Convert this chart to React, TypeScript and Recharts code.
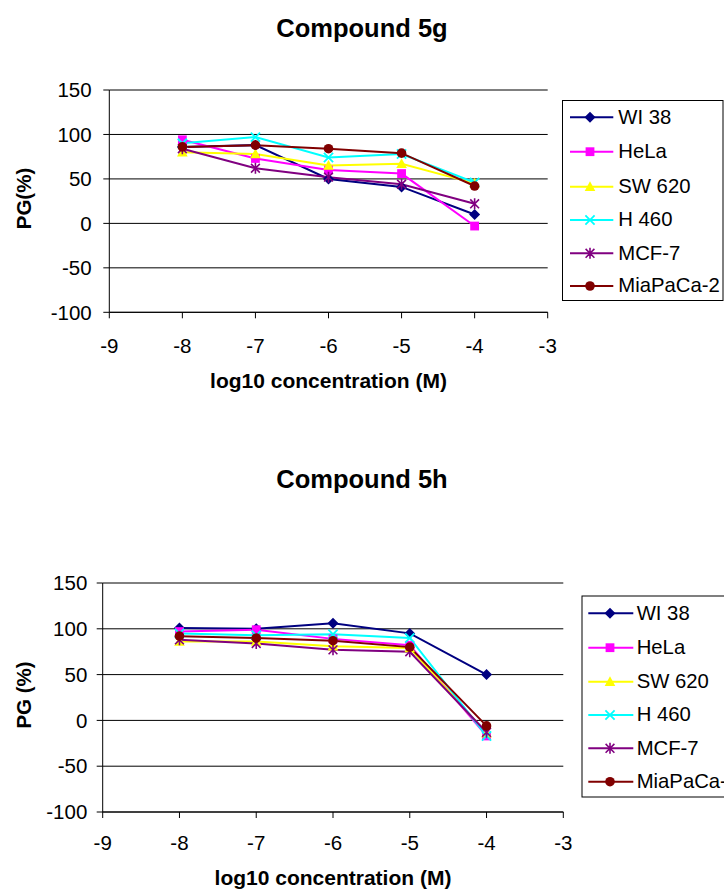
import React from 'react';
import { LineChart, Line, XAxis, YAxis, CartesianGrid } from 'recharts';

const FONT = '"Liberation Sans", Arial, Helvetica, sans-serif';

// ---------- data ----------
const CONCENTRATIONS = [-8, -7, -6, -5, -4];
const X_TICKS = [-9, -8, -7, -6, -5, -4, -3];
const Y_TICKS = [-100, -50, 0, 50, 100, 150];
const CELL_LINES = ['WI 38', 'HeLa', 'SW 620', 'H 460', 'MCF-7', 'MiaPaCa-2'];
const COLORS = ['#000080', '#FF00FF', '#FFFF00', '#00FFFF', '#800080', '#800000'];
const MARKERS = ['diamond', 'square', 'triangle', 'cross', 'star', 'circle'];

// Compound 5g
const PG_5G_WI38 = [86, 88, 50, 41, 10];
const PG_5G_HELA = [94, 73, 60, 56, -3];
const PG_5G_SW620 = [80, 78, 65, 67, 45];
const PG_5G_H460 = [90, 97, 74, 78, 46];
const PG_5G_MCF7 = [84, 62, 52, 44, 22];
const PG_5G_MIAPACA2 = [86, 88, 84, 79, 42];

// Compound 5h
const PG_5H_WI38 = [101, 100, 106, 95, 50];
const PG_5H_HELA = [97, 99, 89, 82, -17];
const PG_5H_SW620 = [86, 86, 81, 79, -14];
const PG_5H_H460 = [95, 93, 94, 90, -17];
const PG_5H_MCF7 = [88, 84, 77, 75, -13];
const PG_5H_MIAPACA2 = [92, 90, 87, 80, -6];

const SERIES_5G = [PG_5G_WI38, PG_5G_HELA, PG_5G_SW620, PG_5G_H460, PG_5G_MCF7, PG_5G_MIAPACA2];
const SERIES_5H = [PG_5H_WI38, PG_5H_HELA, PG_5H_SW620, PG_5H_H460, PG_5H_MCF7, PG_5H_MIAPACA2];

function buildRows(series: number[][]) {
  return CONCENTRATIONS.map((x, i) => {
    const row: Record<string, number> = { x };
    CELL_LINES.forEach((name, s) => {
      row[name] = series[s][i];
    });
    return row;
  });
}

// ---------- markers ----------
function Marker({ kind, cx, cy, color }: { kind: string; cx: number; cy: number; color: string }) {
  if (cx == null || cy == null) return null;
  switch (kind) {
    case 'diamond':
      return (
        <polygon
          points={`${cx},${cy - 5.5} ${cx + 5.5},${cy} ${cx},${cy + 5.5} ${cx - 5.5},${cy}`}
          fill={color}
        />
      );
    case 'square':
      return <rect x={cx - 4.4} y={cy - 4.4} width={8.8} height={8.8} fill={color} />;
    case 'triangle':
      return (
        <polygon points={`${cx},${cy - 5.5} ${cx + 5.3},${cy + 4.2} ${cx - 5.3},${cy + 4.2}`} fill={color} />
      );
    case 'cross':
      return (
        <path
          d={`M${cx - 4.6},${cy - 4.6}L${cx + 4.6},${cy + 4.6}M${cx - 4.6},${cy + 4.6}L${cx + 4.6},${cy - 4.6}`}
          stroke={color}
          strokeWidth={1.8}
          fill="none"
        />
      );
    case 'star':
      return (
        <path
          d={`M${cx - 4.4},${cy - 4.4}L${cx + 4.4},${cy + 4.4}M${cx - 4.4},${cy + 4.4}L${cx + 4.4},${cy - 4.4}M${cx},${cy - 5.5}L${cx},${cy + 5.5}`}
          stroke={color}
          strokeWidth={1.6}
          fill="none"
        />
      );
    default:
      return <circle cx={cx} cy={cy} r={4.8} fill={color} />;
  }
}

// ---------- chart ----------
type ChartProps = {
  top: number;
  height: number;
  plotTop: number;
  plotBottom: number;
  plotLeft: number;
  plotRight: number;
  series: number[][];
  xTickMargin: number;
  yTickMargin: number;
};

function PGChart({ top, height, plotTop, plotBottom, plotLeft, plotRight, series, xTickMargin, yTickMargin }: ChartProps) {
  const rows = buildRows(series);
  const tickStyle = { fill: '#000', fontSize: 20.5, fontFamily: FONT };
  return (
    <div style={{ position: 'absolute', left: 0, top }}>
      <LineChart
        width={724}
        height={height}
        data={rows}
        margin={{ top: plotTop - top, right: 724 - plotRight, left: 0, bottom: 0 }}
      >
        <CartesianGrid vertical={false} stroke="#000" strokeWidth={1} strokeDasharray="" />
        <XAxis
          type="number"
          dataKey="x"
          domain={[-9, -3]}
          ticks={X_TICKS}
          interval={0}
          allowDataOverflow
          height={top + height - plotBottom}
          tickSize={6}
          tickMargin={xTickMargin}
          axisLine={{ stroke: '#000', strokeWidth: 1 }}
          tickLine={{ stroke: '#000', strokeWidth: 1 }}
          tick={tickStyle}
        />
        <YAxis
          type="number"
          domain={[-100, 150]}
          ticks={Y_TICKS}
          interval={0}
          allowDataOverflow
          width={plotLeft}
          tickSize={6}
          tickMargin={yTickMargin}
          axisLine={{ stroke: '#000', strokeWidth: 1 }}
          tickLine={{ stroke: '#000', strokeWidth: 1 }}
          tick={tickStyle}
        />
        {CELL_LINES.map((name, s) => (
          <Line
            key={name}
            type="linear"
            dataKey={name}
            stroke={COLORS[s]}
            strokeWidth={2}
            isAnimationActive={false}
            activeDot={false}
            dot={(p: any) => (
              <Marker key={`${name}-${p.index}`} kind={MARKERS[s]} cx={p.cx} cy={p.cy} color={COLORS[s]} />
            )}
          />
        ))}
      </LineChart>
    </div>
  );
}

// ---------- legend ----------
function LegendBox({ x, y, w, h, rowYs, lineX1, lineX2, markerX, textX }: any) {
  return (
    <g>
      <rect x={x} y={y} width={w} height={h} fill="#fff" stroke="#000" strokeWidth={1} />
      {CELL_LINES.map((name, s) => (
        <g key={name}>
          <line x1={lineX1} x2={lineX2} y1={rowYs[s]} y2={rowYs[s]} stroke={COLORS[s]} strokeWidth={2} />
          <Marker kind={MARKERS[s]} cx={markerX} cy={rowYs[s]} color={COLORS[s]} />
          <text x={textX} y={rowYs[s] - 1 + 0.358 * 20.3} fontSize={20.3} fontFamily={FONT} fill="#000">
            {name}
          </text>
        </g>
      ))}
    </g>
  );
}

export default function App() {
  const boldText = { fontFamily: FONT, fontWeight: 700, fill: '#000' } as const;
  return (
    <div style={{ position: 'absolute', left: 0, top: 0, width: 724, height: 889, overflow: 'hidden', background: '#fff' }}>
      <PGChart
        top={0}
        height={400}
        plotTop={90}
        plotBottom={312.3}
        plotLeft={109.3}
        plotRight={547.7}
        series={SERIES_5G}
        xTickMargin={19.7}
        yTickMargin={11.6}
      />
      <PGChart
        top={460}
        height={429}
        plotTop={583}
        plotBottom={812}
        plotLeft={102.7}
        plotRight={563.3}
        series={SERIES_5H}
        xTickMargin={17}
        yTickMargin={9.4}
      />
      <svg
        width={724}
        height={889}
        style={{ position: 'absolute', left: 0, top: 0, pointerEvents: 'none' }}
      >
        {/* titles */}
        <text x={362} y={36.7} textAnchor="middle" fontSize={25.5} {...boldText}>Compound 5g</text>
        <text x={362} y={488.3} textAnchor="middle" fontSize={25.5} {...boldText}>Compound 5h</text>
        {/* y axis titles */}
        <text transform="translate(24,198.5) rotate(-90)" textAnchor="middle" dy="0.358em" fontSize={20.5} {...boldText}>PG(%)</text>
        <text transform="translate(24,695) rotate(-90)" textAnchor="middle" dy="0.358em" fontSize={20.5} {...boldText}>PG (%)</text>
        {/* x axis titles */}
        <text x={328.5} y={388} textAnchor="middle" fontSize={21} {...boldText}>log10 concentration (M)</text>
        <text x={333} y={884.7} textAnchor="middle" fontSize={21} {...boldText}>log10 concentration (M)</text>
        {/* legends */}
        <LegendBox
          x={562.5}
          y={100.5}
          w={160.5}
          h={200}
          rowYs={[117.3, 151.7, 186.7, 220, 253.3, 286]}
          lineX1={570}
          lineX2={613.3}
          markerX={590}
          textX={618.3}
        />
        <LegendBox
          x={582}
          y={596}
          w={200}
          h={201}
          rowYs={[613.3, 647.7, 681.7, 715, 748.3, 781.7]}
          lineX1={588.3}
          lineX2={633.3}
          markerX={610}
          textX={636.7}
        />
      </svg>
    </div>
  );
}
